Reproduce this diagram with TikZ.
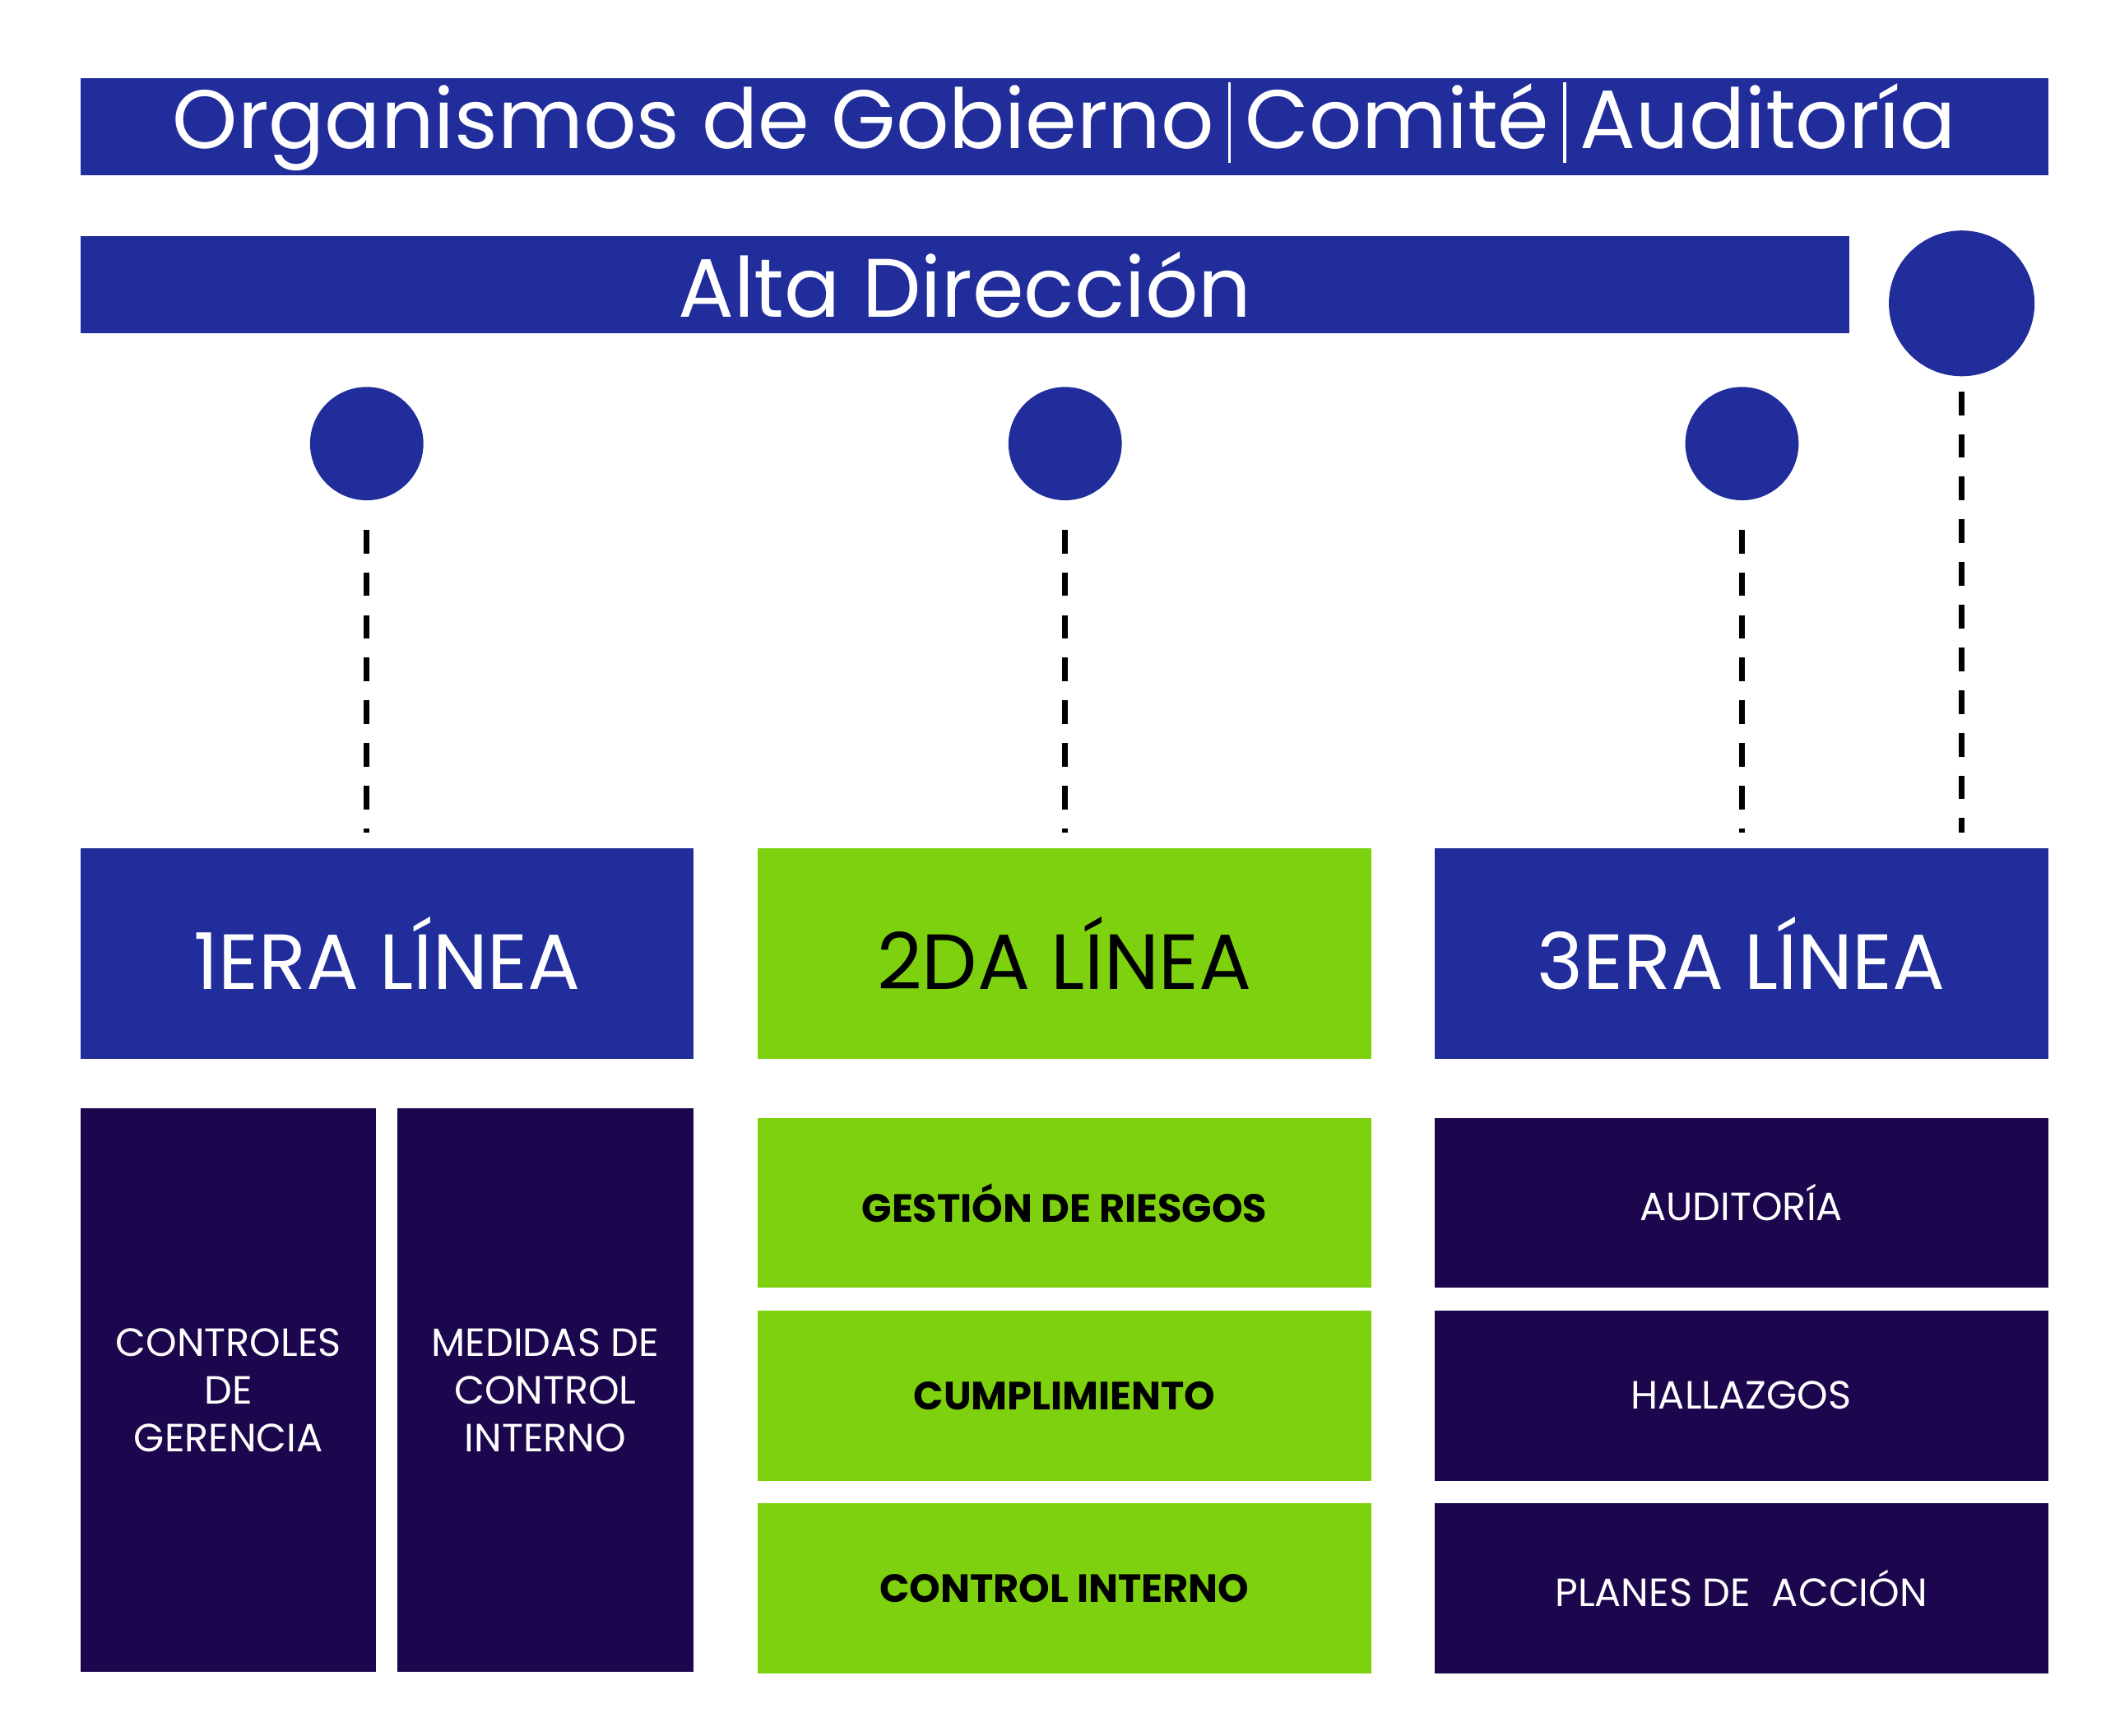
\documentclass[tikz,border=0pt]{standalone}
\usepackage{fontspec}
\setmainfont{Poppins}
\definecolor{azul}{RGB}{32,45,154}
\definecolor{verde}{RGB}{126,209,14}
\definecolor{morado}{RGB}{28,6,77}
\tikzset{
  caja/.style={inner sep=0pt, align=center, text=white},
  punto/.style={circle, fill=azul, inner sep=0pt},
  guia/.style={black, line width=1.2pt, dash pattern=on 5pt off 4pt}
}
\begin{document}
\begin{tikzpicture}[x=0.01cm,y=0.01cm]
\useasboundingbox[fill=white] (0,0) rectangle (1562,1287);

% Barras superiores
\node[caja, fill=azul, minimum width=14.59cm, minimum height=0.72cm, font=\fontsize{17.5}{20}\selectfont]
  (gobierno) at (789.5,1193) {Organismos de Gobierno\,\rule[-3pt]{0.6pt}{17pt}\,Comité\,\rule[-3pt]{0.6pt}{17pt}\,Auditoría};
\node[caja, fill=azul, minimum width=13.11cm, minimum height=0.72cm, font=\fontsize{17.5}{20}\selectfont]
  (alta) at (715.5,1076) {Alta Dirección};

% Puntos
\node[punto, minimum size=0.84cm] (p1) at (272,958) {};
\node[punto, minimum size=0.84cm] (p2) at (790,958) {};
\node[punto, minimum size=0.84cm] (p3) at (1292,958) {};
\node[punto, minimum size=1.08cm] (p4) at (1455,1062) {};

% Lineas
\node[caja, fill=azul, minimum width=4.54cm, minimum height=1.56cm, font=\fontsize{16.5}{20}\selectfont]
  (linea1) at (287,580) {1ERA LÍNEA};
\node[caja, fill=verde, text=black, minimum width=4.55cm, minimum height=1.56cm, font=\fontsize{16.5}{20}\selectfont]
  (linea2) at (789.5,580) {2DA LÍNEA};
\node[caja, fill=azul, minimum width=4.55cm, minimum height=1.56cm, font=\fontsize{16.5}{20}\selectfont]
  (linea3) at (1291.5,580) {3ERA LÍNEA};

% Conectores
\draw[guia, shorten <=6pt, shorten >=3pt] (p1) -- (p1 |- linea1.north);
\draw[guia, shorten <=6pt, shorten >=3pt] (p2) -- (p2 |- linea2.north);
\draw[guia, shorten <=6pt, shorten >=3pt] (p3) -- (p3 |- linea3.north);
\draw[guia, shorten <=3pt, shorten >=3pt] (p4) -- (p4 |- linea3.north);

% Primera linea
\node[caja, fill=morado, minimum width=2.19cm, minimum height=4.18cm, font=\fontsize{8.3}{10}\selectfont]
  (gerencia) at (169.5,256) {CONTROLES\\DE\\GERENCIA};
\node[caja, fill=morado, minimum width=2.19cm, minimum height=4.18cm, font=\fontsize{8.3}{10}\selectfont]
  (medidas) at (404.5,256) {MEDIDAS DE\\CONTROL\\INTERNO};

% Segunda linea
\node[caja, fill=verde, text=black, minimum width=4.55cm, minimum height=1.26cm, font=\fontsize{8.3}{10}\selectfont\bfseries]
  (riesgos) at (789.5,395) {GESTIÓN DE RIESGOS};
\node[caja, fill=verde, text=black, minimum width=4.55cm, minimum height=1.26cm, font=\fontsize{8.3}{10}\selectfont\bfseries]
  (cumplimiento) at (789.5,252) {CUMPLIMIENTO};
\node[caja, fill=verde, text=black, minimum width=4.55cm, minimum height=1.26cm, font=\fontsize{8.3}{10}\selectfont\bfseries]
  (control) at (789.5,109) {CONTROL INTERNO};

% Tercera linea
\node[caja, fill=morado, minimum width=4.55cm, minimum height=1.26cm, font=\fontsize{8.3}{10}\selectfont]
  (auditoria) at (1291.5,395) {AUDITORÍA};
\node[caja, fill=morado, minimum width=4.55cm, minimum height=1.26cm, font=\fontsize{8.3}{10}\selectfont]
  (hallazgos) at (1291.5,252) {HALLAZGOS};
\node[caja, fill=morado, minimum width=4.55cm, minimum height=1.26cm, font=\fontsize{8.3}{10}\selectfont]
  (planes) at (1291.5,109) {PLANES DE\ \ ACCIÓN};
\end{tikzpicture}
\end{document}
